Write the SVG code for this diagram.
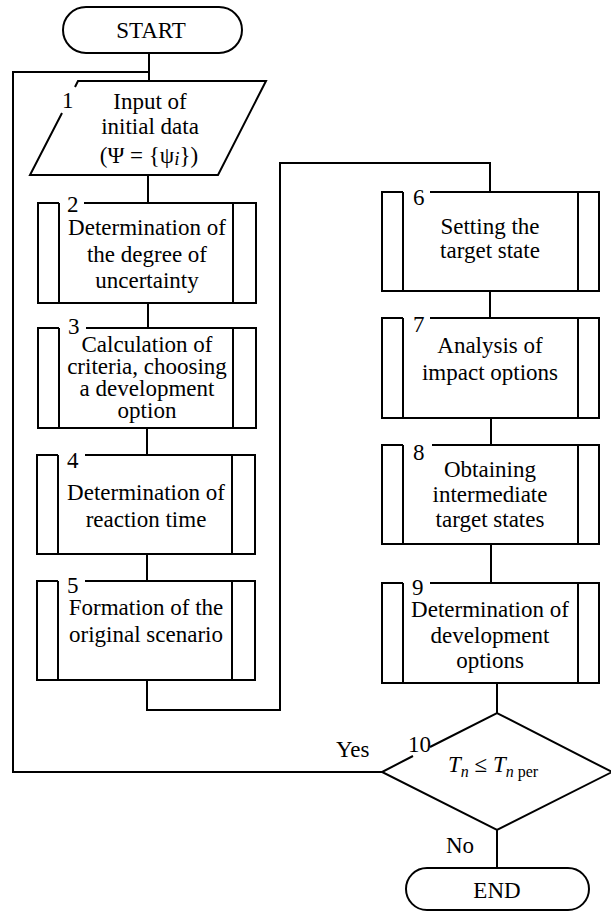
<svg xmlns="http://www.w3.org/2000/svg" width="611" height="912" viewBox="0 0 611 912">
<style>
  .s { fill: none; stroke: #000; stroke-width: 2; }
  .t { font-family: 'Liberation Serif', 'Times New Roman', serif; font-size: 23px; fill: #000; }
  .c { text-anchor: middle; }
</style>
<rect x="0" y="0" width="611" height="912" fill="#fff"/>
<g id="connectors" class="s">
  <polyline points="149,53 149,81"/>
  <polyline points="149,72 13,72 13,772 382,772"/>
  <polyline points="148,175 148,203"/>
  <polyline points="148,303 148,328"/>
  <polyline points="147,428 147,455"/>
  <polyline points="147,554 147,581"/>
  <polyline points="147,680 147,710 280,710 280,163 490,163 490,192"/>
  <polyline points="490,291 490,318"/>
  <polyline points="491,418 491,445"/>
  <polyline points="491,544 491,583"/>
  <polyline points="497,683 497,713"/>
  <polyline points="497,830 497,868"/>
</g>
<g id="start">
  <rect class="s" x="63" y="7" width="179" height="46" rx="23"/>
  <text class="t c" x="151" y="38">START</text>
</g>
<g id="n1">
  <path class="s" d="M75,87 L78,81 L266,81 L218,175 L30,175 L62,113"/>
  <text class="t" x="62" y="108">1</text>
  <text class="t c" x="150" y="109">Input of</text>
  <text class="t c" x="150" y="134">initial data</text>
  <text class="t c" x="149" y="163">(Ψ = {ψ<tspan font-style="italic" font-size="19" dy="2">i</tspan><tspan dy="-2">})</tspan></text>
</g>
<g id="n2">
  <path class="s" d="M59,203 L38,203 L38,303 L256,303 L256,203 L84,203 M59,203 L59,303 M233,203 L233,303"/>
  <text class="t" x="67" y="212">2</text>
  <text class="t c" x="147" y="235">Determination of</text>
  <text class="t c" x="147" y="262">the degree of</text>
  <text class="t c" x="147" y="288">uncertainty</text>
</g>
<g id="n3">
  <path class="s" d="M59,328 L38,328 L38,428 L256,428 L256,328 L86,328 M59,328 L59,428 M233,328 L233,428"/>
  <text class="t" x="68" y="334">3</text>
  <text class="t c" x="147" y="352">Calculation of</text>
  <text class="t c" x="147" y="374">criteria, choosing</text>
  <text class="t c" x="147" y="396">a development</text>
  <text class="t c" x="147" y="418">option</text>
</g>
<g id="n4">
  <path class="s" d="M58,455 L37,455 L37,554 L255,554 L255,455 L85,455 M58,455 L58,554 M232,455 L232,554"/>
  <text class="t" x="67" y="468">4</text>
  <text class="t c" x="146" y="500">Determination of</text>
  <text class="t c" x="146" y="527">reaction time</text>
</g>
<g id="n5">
  <path class="s" d="M58,581 L37,581 L37,680 L255,680 L255,581 L85,581 M58,581 L58,680 M232,581 L232,680"/>
  <text class="t" x="67" y="593">5</text>
  <text class="t c" x="146" y="615">Formation of the</text>
  <text class="t c" x="146" y="642">original scenario</text>
</g>
<g id="n6">
  <path class="s" d="M403,192 L382,192 L382,291 L599,291 L599,192 L430,192 M403,192 L403,291 M578,192 L578,291"/>
  <text class="t" x="413" y="205">6</text>
  <text class="t c" x="490" y="234">Setting the</text>
  <text class="t c" x="490" y="258">target state</text>
</g>
<g id="n7">
  <path class="s" d="M403,318 L382,318 L382,418 L599,418 L599,318 L430,318 M403,318 L403,418 M578,318 L578,418"/>
  <text class="t" x="413" y="332">7</text>
  <text class="t c" x="490" y="353">Analysis of</text>
  <text class="t c" x="490" y="380">impact options</text>
</g>
<g id="n8">
  <path class="s" d="M403,445 L382,445 L382,544 L599,544 L599,445 L432,445 M403,445 L403,544 M578,445 L578,544"/>
  <text class="t" x="413" y="460">8</text>
  <text class="t c" x="490" y="477">Obtaining</text>
  <text class="t c" x="490" y="502">intermediate</text>
  <text class="t c" x="490" y="527">target states</text>
</g>
<g id="n9">
  <path class="s" d="M403,583 L382,583 L382,683 L599,683 L599,583 L430,583 M403,583 L403,683 M578,583 L578,683"/>
  <text class="t" x="412" y="595">9</text>
  <text class="t c" x="490" y="617">Determination of</text>
  <text class="t c" x="490" y="643">development</text>
  <text class="t c" x="490" y="668">options</text>
</g>
<g id="n10">
  <path class="s" d="M430,747 L497,713 L612,772 L497,830 L382,772 L413,756"/>
  <text class="t" x="408" y="752">10</text>
  <text class="t" x="448" y="772"><tspan font-style="italic">T</tspan><tspan font-style="italic" font-size="16" dy="5">n</tspan><tspan dy="-5"> ≤ </tspan><tspan font-style="italic">T</tspan><tspan font-style="italic" font-size="16" dy="5">n</tspan><tspan font-size="16"> per</tspan></text>
  <text class="t" x="336" y="757">Yes</text>
  <text class="t" x="446" y="853">No</text>
</g>
<g id="end">
  <rect class="s" x="406" y="868" width="183" height="42" rx="21"/>
  <text class="t c" x="497" y="898">END</text>
</g>
</svg>
